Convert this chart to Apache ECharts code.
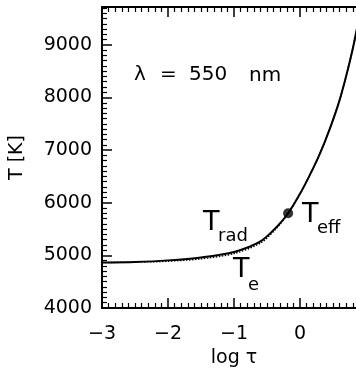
<!DOCTYPE html>
<html><head><meta charset="utf-8">
<script src="https://cdn.jsdelivr.net/npm/echarts@6/dist/echarts.min.js"></script>
<style>html,body{margin:0;padding:0;background:#fff}#c{width:356px;height:369px}</style>
</head><body><div id="c"></div>
<script>
// log tau values
const logTau = [-3, -2.5, -2, -1.5, -1, -0.6, -0.35, -0.18, 0, 0.15, 0.3, 0.45, 0.6, 0.75, 0.85, 1.0];
// electron temperature T_e (solid)
const tempE = [4865, 4875, 4905, 4960, 5065, 5265, 5545, 5800, 6170, 6530, 6930, 7400, 7950, 8660, 9230, 10300];
// radiation temperature T_rad (dotted)
const tempRad = [4865, 4872, 4890, 4935, 5035, 5235, 5525, 5800, 6170, 6530, 6930, 7400, 7950, 8660, 9230, 10300];
// effective temperature point
const effPoint = [[-0.18, 5800]];
const xTicks = [-3, -2, -1, 0, 1];
const yTicks = [4000, 5000, 6000, 7000, 8000, 9000];

const FONT = 'DejaVu Sans';
const chart = echarts.init(document.getElementById('c'), null, {renderer: 'canvas'});
const xMin = -3, xMax = 1, yMin = 4000, yMax = 9720;
const lineStyle = {color: '#000', width: 2};
function xAx(pos, show) {
  return {
    type: 'value', position: pos, min: xMin, max: xMax, interval: 1,
    axisLine: {show: true, onZero: false, lineStyle: lineStyle},
    axisTick: {show: true, inside: true, length: 10, lineStyle: {color: '#000', width: 1.5}},
    minorTick: {show: true, splitNumber: 10, length: 5, lineStyle: {color: '#000', width: 1.2}},
    splitLine: {show: false},
    axisLabel: {show: show, color: '#000', fontFamily: FONT, fontSize: 19, margin: 17,
      formatter: v => xTicks.includes(v) ? String(v).replace('-', '\u2212') : ''},
    name: show ? 'log \u03c4' : '', nameLocation: 'middle', nameGap: 41,
    nameTextStyle: {color: '#000', fontFamily: FONT, fontSize: 19}
  };
}
function yAx(pos, show) {
  return {
    type: 'value', position: pos, min: yMin, max: yMax, interval: 1000,
    axisLine: {show: true, onZero: false, lineStyle: lineStyle},
    axisTick: {show: true, inside: true, length: 10, lineStyle: {color: '#000', width: 1.5}},
    minorTick: {show: true, splitNumber: 10, length: 5, lineStyle: {color: '#000', width: 1.2}},
    splitLine: {show: false},
    axisLabel: {show: show, color: '#000', fontFamily: FONT, fontSize: 19, margin: 10, showMaxLabel: false,
      formatter: v => yTicks.includes(v) ? String(v) : ''},
    name: show ? 'T [K]' : '', nameLocation: 'middle', nameGap: 75,
    nameTextStyle: {color: '#000', fontFamily: FONT, fontSize: 19}
  };
}
function txt(x, y, s, size) {
  return {type: 'text', x: x, y: y, style: {text: s, fill: '#000', font: size + 'px "' + FONT + '"', verticalAlign: 'middle', align: 'left'}};
}
chart.setOption({
  animation: false,
  grid: {left: 102, top: 7, width: 264, height: 301, containLabel: false, outerBoundsMode: 'none'},
  xAxis: [xAx('bottom', true), xAx('top', false)],
  yAxis: [yAx('left', true), yAx('right', false)],
  series: [
    {type: 'line', name: 'T_rad', data: logTau.map((x, i) => [x, tempRad[i]]), showSymbol: false, smooth: 0.3,
     lineStyle: {color: '#000', width: 1.5, type: [1.5, 1.5]}, clip: true, z: 2},
    {type: 'line', name: 'T_e', data: logTau.map((x, i) => [x, tempE[i]]), showSymbol: false, smooth: 0.3,
     lineStyle: {color: '#000', width: 2}, clip: true, z: 3},
    {type: 'scatter', data: effPoint, symbolSize: 10, itemStyle: {color: '#000'}, z: 4}
  ],
  graphic: [
    txt(134, 75, '\u03bb', 20),
    txt(160, 75, '=', 20),
    txt(189, 75, '550', 20),
    txt(249, 76, 'nm', 20),
    txt(203, 223, 'T', 27),
    txt(218, 236, 'rad', 18),
    txt(302, 215, 'T', 27),
    txt(317, 228, 'eff', 18),
    txt(233, 270, 'T', 27),
    txt(248, 285, 'e', 18)
  ]
});
</script></body></html>
